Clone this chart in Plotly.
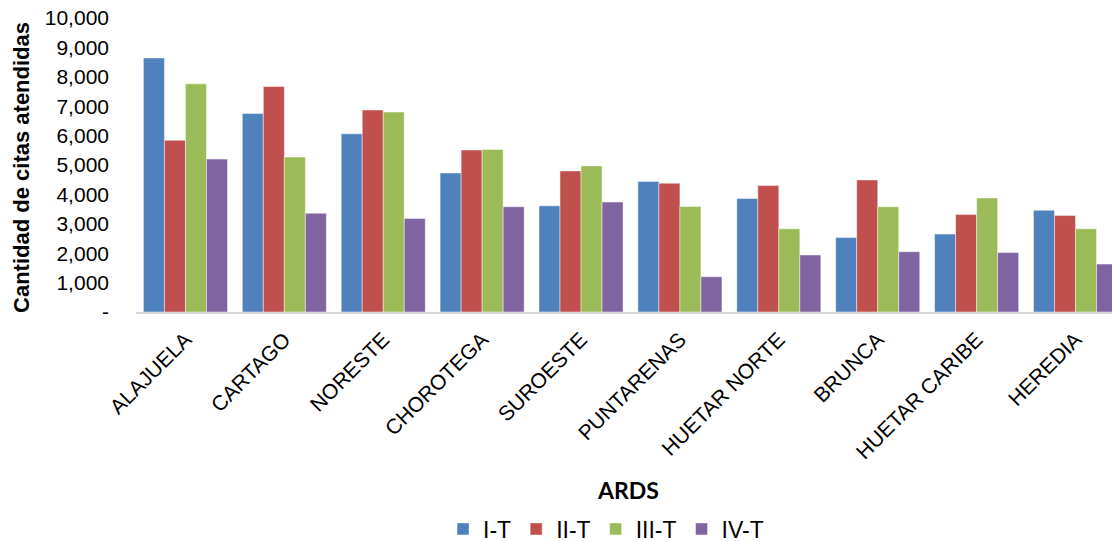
import plotly.graph_objects as go

categories = ["ALAJUELA", "CARTAGO", "NORESTE", "CHOROTEGA", "SUROESTE",
              "PUNTARENAS", "HUETAR NORTE", "BRUNCA", "HUETAR CARIBE", "HEREDIA"]
series_names = ["I-T", "II-T", "III-T", "IV-T"]
values_it = [8640, 6750, 6060, 4730, 3610, 4440, 3860, 2530, 2650, 3460]
values_iit = [5840, 7670, 6870, 5510, 4800, 4380, 4300, 4490, 3320, 3280]
values_iiit = [7760, 5270, 6800, 5530, 4970, 3590, 2830, 3580, 3880, 2830]
values_ivt = [5200, 3360, 3180, 3580, 3740, 1200, 1940, 2050, 2020, 1630]
colors = ["#4F81BD", "#C0504D", "#9BBB59", "#8064A2"]
ytick_vals = [0, 1000, 2000, 3000, 4000, 5000, 6000, 7000, 8000, 9000, 10000]
ytick_text = ["-", "1,000", "2,000", "3,000", "4,000", "5,000", "6,000",
              "7,000", "8,000", "9,000", "10,000"]

fig = go.Figure()
for name, vals, col in zip(series_names, [values_it, values_iit, values_iiit, values_ivt], colors):
    fig.add_trace(go.Bar(
        x=categories, y=vals, name=name,
        marker=dict(color=col, line=dict(color="rgba(255,255,255,0.45)", width=1)),
    ))

# figure is a little taller than the window so the legend can sit at the very bottom
fig.update_layout(
    width=1112, height=557,
    margin=dict(l=136, r=0, t=18, b=245),
    paper_bgcolor="white", plot_bgcolor="white",
    barmode="group", bargap=0.15, bargroupgap=0,
    font=dict(family="Arial, Liberation Sans", color="black"),
    showlegend=True,
    legend=dict(orientation="h", x=0.4816, xanchor="center", y=-0.738, yanchor="middle",
                font=dict(size=23, family="Arial, Liberation Sans"), itemwidth=30,
                traceorder="normal"),
    xaxis=dict(range=[-0.5, 9.369], tickangle=-45, showgrid=False,
               showline=True, linecolor="#d9d9d9", linewidth=2,
               tickfont=dict(size=21, family="Arial, Liberation Sans"),
               ticks="", ticklabelstandoff=5, automargin=False,
               ticklabeloverflow="allow"),
    yaxis=dict(range=[0, 10000], tickvals=ytick_vals, ticktext=ytick_text,
               showgrid=False, showline=False, zeroline=False, ticks="",
               tickfont=dict(size=21, family="Arial, Liberation Sans"),
               ticklabelstandoff=26, automargin=False,
               ticklabeloverflow="allow"),
    annotations=[
        dict(text="<b>Cantidad de citas atendidas</b>", textangle=-90,
             xref="paper", yref="paper", x=-0.1168, y=0.49,
             xanchor="center", yanchor="middle", showarrow=False,
             font=dict(size=22, family="Arial, Liberation Sans", color="black")),
        dict(text="<b>ARDS</b>", xref="paper", yref="paper", x=0.5046, y=-0.604,
             xanchor="center", yanchor="middle", showarrow=False,
             font=dict(size=23, family="Lato, Open Sans", color="black")),
    ],
)

fig.write_html("out.html", config={"displayModeBar": False},
               post_script="document.body.style.margin='0';")
